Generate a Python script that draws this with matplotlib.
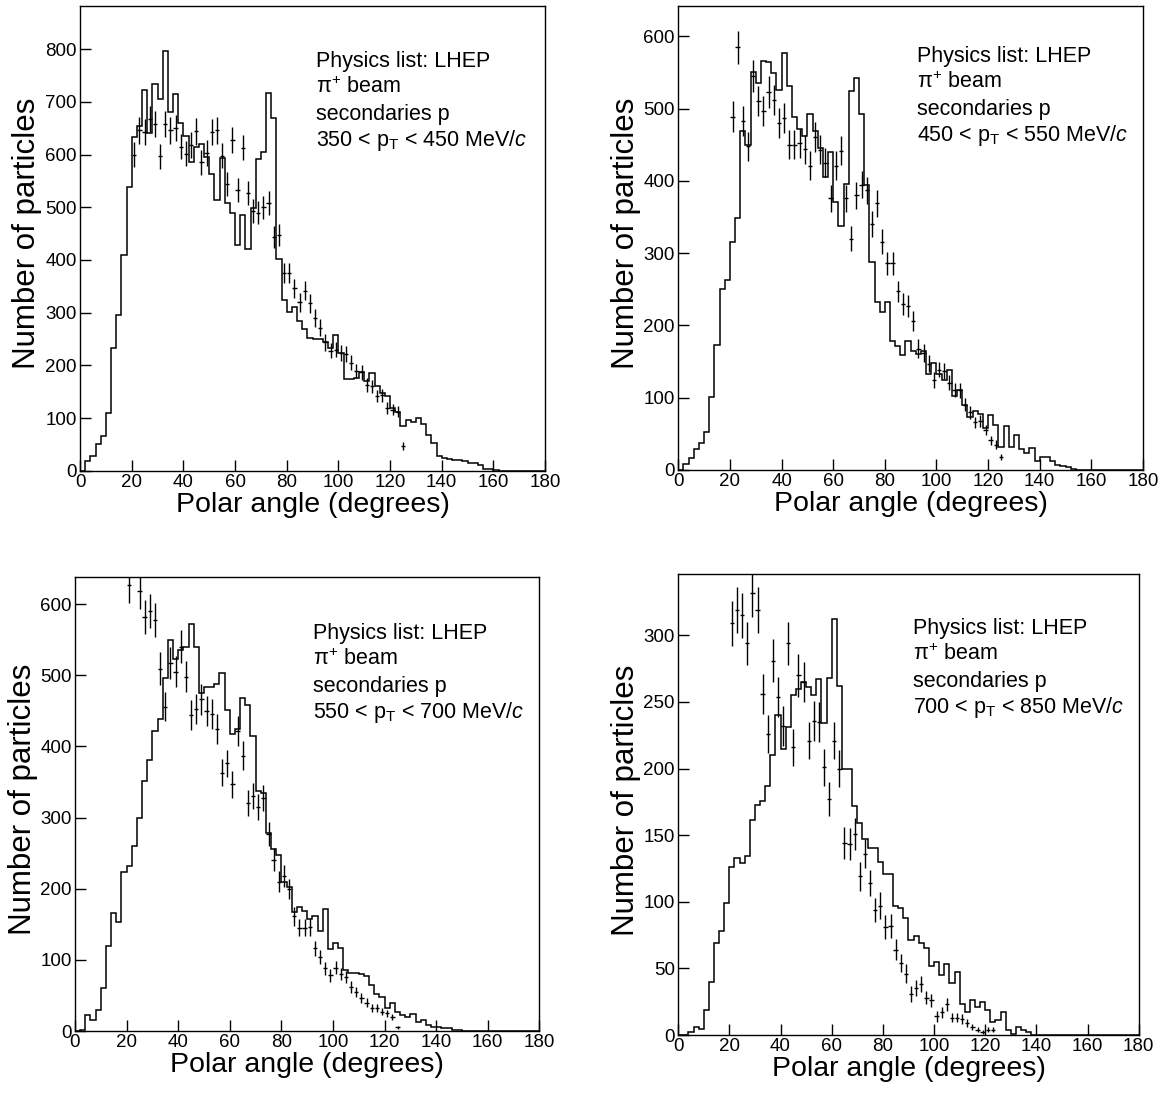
import numpy as np
import matplotlib
matplotlib.use("Agg")
import matplotlib.pyplot as plt

plt.rcParams['font.family'] = ['Liberation Sans', 'DejaVu Sans']
plt.rcParams['mathtext.fontset'] = 'custom'
plt.rcParams['mathtext.rm'] = 'Liberation Sans'
plt.rcParams['mathtext.it'] = 'Liberation Sans:italic'
plt.rcParams['mathtext.bf'] = 'Liberation Sans:bold'

# simulated histograms, 2 degree bins from 0 to 180
bin_edges = np.arange(0, 182, 2)

hist_350 = [0, 19, 27, 50, 65, 109, 232, 296, 410, 539,
            634, 654, 722, 641, 734, 706, 797, 681, 715, 660,
            635, 585, 615, 621, 595, 563, 514, 594, 509, 490,
            429, 486, 420, 499, 591, 604, 717, 669, 401, 324,
            302, 310, 284, 268, 252, 250, 250, 244, 233, 258,
            223, 174, 174, 176, 188, 170, 186, 160, 148, 141,
            119, 112, 84, 97, 93, 100, 88, 68, 53, 27,
            24, 22, 20, 20, 18, 15, 15, 11, 4, 3,
            1, 0, 0, 0, 0, 0, 0, 0, 0, 0]

hist_450 = [0, 8, 17, 29, 38, 52, 101, 173, 250, 263,
            315, 349, 469, 449, 551, 535, 566, 564, 549, 526,
            577, 531, 489, 472, 462, 493, 469, 445, 405, 440,
            371, 337, 396, 525, 543, 492, 395, 288, 233, 219,
            233, 179, 171, 159, 179, 164, 161, 165, 133, 148,
            133, 125, 138, 102, 111, 90, 74, 81, 78, 58,
            76, 62, 32, 61, 32, 48, 29, 24, 30, 12,
            18, 18, 12, 7, 6, 4, 2, 0, 0, 0,
            0, 0, 0, 0, 0, 0, 0, 0, 0, 0]

hist_550 = [0, 2, 23, 15, 30, 60, 119, 166, 153, 223,
            232, 260, 300, 351, 381, 422, 438, 496, 549, 523,
            535, 540, 572, 540, 475, 484, 484, 487, 503, 451,
            418, 425, 468, 458, 414, 337, 335, 278, 256, 247,
            209, 203, 167, 174, 168, 158, 162, 140, 172, 115,
            124, 116, 86, 82, 82, 80, 77, 64, 52, 48,
            33, 40, 26, 22, 19, 24, 13, 15, 8, 6,
            6, 4, 4, 2, 1, 0, 0, 0, 0, 0,
            0, 0, 0, 0, 0, 0, 0, 0, 0, 0]

hist_700 = [0, 0, 2, 6, 4.5, 19, 40, 69, 78, 99,
            126, 133, 129, 134, 161, 173, 176, 187, 210, 240,
            215, 231, 255, 260, 265, 261, 255, 267, 234, 268,
            312, 262, 200, 200, 172, 159, 147, 140, 140, 130,
            121, 121, 97, 95, 88, 71, 74, 69, 65, 52,
            55, 45, 53, 39, 47, 23, 17, 26, 21, 25,
            19, 10, 11, 17, 4, 1, 6, 4, 2, 0,
            0, 0, 0, 0, 0, 0, 0, 0, 0, 0,
            0, 0, 0, 0, 0, 0, 0, 0, 0, 0]

# measured points, centres 21, 23, ... degrees
data_x = np.arange(21, 127, 2)

data_350 = [600, 646, 643, 668, 658, 597, 658, 646, 650, 615,
            602, 618, 644, 585, 603, 643, 646, 598, 544, 628,
            533, 613, 527, 493, 490, 500, 508, 444, 448, 376,
            376, 346, 320, 342, 318, 290, 271, 244, 228, 230,
            224, 222, 205, 189, 187, 163, 160, 142, 143, 119,
            116, 112, 47]
err_350 = [24, 25, 25, 25, 25, 24, 25, 25, 25, 24,
           24, 24, 25, 24, 24, 25, 25, 24, 23, 25,
           23, 24, 23, 22, 22, 22, 22, 21, 21, 19,
           19, 18, 18, 18, 18, 17, 16, 16, 15, 15,
           15, 15, 14, 14, 14, 13, 13, 12, 12, 11,
           11, 11, 7]

data_450 = [489, 585, 483, 448, 545, 511, 497, 523, 512, 480,
            487, 450, 450, 452, 444, 421, 461, 443, 425, 376,
            421, 442, 376, 320, 380, 395, 387, 341, 369, 316,
            286, 286, 247, 230, 227, 206, 168, 162, 147, 125,
            139, 137, 121, 111, 110, 90, 80, 66, 68, 55,
            41, 35, 18]
err_450 = [21, 23, 21, 20, 22, 21, 21, 22, 21, 21,
           21, 20, 20, 20, 20, 20, 21, 20, 20, 19,
           20, 20, 19, 17, 19, 19, 19, 18, 19, 17,
           16, 16, 15, 15, 15, 14, 13, 12, 12, 11,
           11, 11, 11, 10, 10, 9, 9, 8, 8, 7,
           6, 6, 4]

data_550 = [627, 680, 618, 582, 590, 577, 509, 456, 517, 505,
            540, 498, 444, 452, 466, 450, 446, 424, 363, 376,
            347, 421, 387, 320, 330, 315, 327, 277, 241, 210,
            218, 200, 161, 145, 145, 146, 116, 104, 88, 78,
            89, 80, 76, 62, 55, 46, 40, 32, 32, 27,
            25, 20, 5]
err_550 = [25, 26, 25, 24, 24, 24, 23, 21, 23, 22,
           23, 22, 21, 21, 22, 21, 21, 21, 19, 19,
           19, 21, 20, 18, 18, 18, 18, 17, 16, 15,
           15, 14, 13, 12, 12, 12, 11, 10, 9, 9,
           9, 9, 9, 8, 7, 7, 6, 6, 6, 5,
           5, 4, 2]

data_700 = [309, 319, 315, 294, 332, 319, 256, 226, 281, 254,
            232, 294, 216, 270, 265, 221, 236, 235, 201, 177,
            221, 200, 144, 143, 151, 119, 136, 114, 94, 97,
            81, 82, 64, 54, 46, 31, 35, 38, 28, 26,
            14, 17, 23, 13, 13, 12, 9, 6, 4, 2,
            4, 4]
err_700 = [17, 17, 17, 16, 18, 17, 15, 14, 16, 15,
           15, 16, 14, 16, 15, 14, 15, 15, 14, 13,
           14, 14, 12, 12, 12, 11, 11, 10, 9, 10,
           9, 9, 8, 7, 7, 6, 6, 6, 5, 5,
           4, 4, 5, 3.5, 3.5, 3.5, 3, 2.5, 2, 1.5,
           2, 2]

pt_ranges = ["350 < p$_\\mathrm{T}$ < 450 MeV/$c$",
             "450 < p$_\\mathrm{T}$ < 550 MeV/$c$",
             "550 < p$_\\mathrm{T}$ < 700 MeV/$c$",
             "700 < p$_\\mathrm{T}$ < 850 MeV/$c$"]

W, H = 1173, 1100
fig = plt.figure(figsize=(W / 100, H / 100), dpi=100)


def px_axes(left, top, right, bottom):
    return fig.add_axes([left / W, 1 - bottom / H, (right - left) / W, (bottom - top) / H])


panels = [
    # axes box in pixels, hist, points, errors, ymax, ytick step, text origin
    ((80, 6, 545, 470.7), hist_350, data_350, err_350, 882, 100, (316, 67)),
    ((678.3, 6, 1143, 470), hist_450, data_450, err_450, 642, 100, (917, 62)),
    ((75, 577, 539.4, 1031), hist_550, data_550, err_550, 638, 100, (313, 639)),
    ((678.2, 574, 1138.7, 1035), hist_700, data_700, err_700, 346, 50, (913, 634)),
]

for k, (box, hist, pts, errs, ymax, ystep, (tx, ty)) in enumerate(panels):
    ax = px_axes(*box)
    h_px = box[3] - box[1]
    ax.stairs(hist, bin_edges, color='black', lw=1.1)
    ax.errorbar(data_x[:len(pts)], pts, yerr=errs, xerr=0.85, fmt='none',
                ecolor='black', elinewidth=1.0, capsize=0)
    ax.set_xlim(0, 180)
    ax.set_ylim(0, ymax)
    ax.set_xticks(np.arange(0, 181, 20))
    ax.set_yticks(np.arange(0, ymax, ystep))
    ax.tick_params(direction='in', length=8, width=1, labelsize=13.5, pad=2.5)
    for s in ax.spines.values():
        s.set_linewidth(1.0)
    ax.set_xlabel("Polar angle (degrees)", fontsize=20.5, va='baseline')
    ax.xaxis.set_label_coords(0.5, -41 / h_px)
    ax.set_ylabel("Number of particles", fontsize=22.5, va='center')
    ax.yaxis.set_label_coords(-0.113, 0.51)

    lines = ["Physics list: LHEP", "π$^{+}$ beam", "secondaries p", pt_ranges[k]]
    for j, line in enumerate(lines):
        fig.text(tx / W, 1 - (ty + 26.3 * j) / H, line, fontsize=15.5, va='baseline', ha='left')

fig.savefig("out.png", dpi=100)
